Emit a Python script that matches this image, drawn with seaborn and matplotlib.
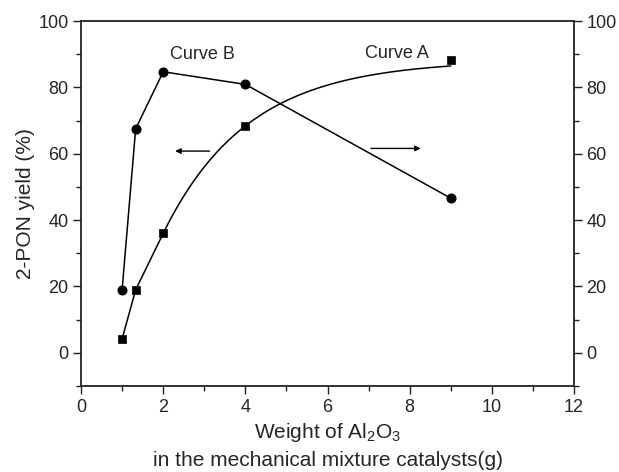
import numpy as np
import pandas as pd
import matplotlib
matplotlib.use("Agg")
import matplotlib.pyplot as plt
from matplotlib.ticker import MultipleLocator
import seaborn as sns

# Curve A: 2-PON yield (left axis), Curve B: right-axis quantity
weight_a = [1.0, 1.33, 2.0, 4.0, 9.0]
yield_a = [4.2, 19.0, 36.0, 68.4, 88.2]
weight_b = [1.0, 1.33, 2.0, 4.0, 9.0]
value_b = [19.0, 67.5, 84.7, 80.9, 46.6]

# saturating fit for curve A beyond 2 g: y = a - b*exp(-c*x)
fit_a, fit_b, fit_c = 88.2, 137.6, 0.4845
fit_start, fit_end = 2.0, 9.0

x_ticks = [0, 2, 4, 6, 8, 10, 12]
y_ticks = [0, 20, 40, 60, 80, 100]

sns.set_style("ticks")
plt.rcParams["font.family"] = ["Liberation Sans", "DejaVu Sans"]
plt.rcParams["mathtext.fontset"] = "custom"
plt.rcParams["mathtext.rm"] = "Liberation Sans"

fig = plt.figure(figsize=(6.19, 4.72), dpi=100)
ax = fig.add_axes([0.1309, 0.1822, 0.7964, 0.7733])

df_a = pd.DataFrame({"w": weight_a, "y": yield_a})
df_b = pd.DataFrame({"w": weight_b, "y": value_b})

# curve B: straight segments through the points
sns.lineplot(data=df_b, x="w", y="y", ax=ax, color="black", lw=1.1,
             marker="o", markersize=6.5, markeredgecolor="black", sort=False)

# curve A: straight segments up to 2 g, then the fitted curve
seg = df_a[df_a["w"] <= fit_start]
sns.lineplot(data=seg, x="w", y="y", ax=ax, color="black", lw=1.1, sort=False)
xf = np.linspace(fit_start, fit_end, 200)
fit_df = pd.DataFrame({"w": xf, "y": fit_a - fit_b * np.exp(-fit_c * xf)})
sns.lineplot(data=fit_df, x="w", y="y", ax=ax, color="black", lw=1.1, sort=False)
sns.scatterplot(data=df_a, x="w", y="y", ax=ax, color="black", marker="s",
                s=36, edgecolor="black", linewidth=0.5, zorder=5)

ax.text(2.95, 90, "Curve B", ha="center", va="center", fontsize=13)
ax.text(7.7, 90.3, "Curve A", ha="center", va="center", fontsize=13)

arrow = dict(arrowstyle="-|>", color="black", lw=1.0,
             mutation_scale=8, shrinkA=0, shrinkB=0)
ax.annotate("", xy=(2.29, 60.8), xytext=(3.13, 60.8), arrowprops=arrow)
ax.annotate("", xy=(8.27, 61.6), xytext=(7.06, 61.6), arrowprops=arrow)

ax.set_xlim(0, 12)
ax.set_ylim(-10, 100)
ax.set_xticks(x_ticks)
ax.set_yticks(y_ticks)
ax.xaxis.set_minor_locator(MultipleLocator(1))
ax.yaxis.set_minor_locator(MultipleLocator(10))
ax.tick_params(which="both", direction="out", top=False, right=True,
               labelright=True, width=1.0, color="#222222")
ax.tick_params(which="major", length=6, labelsize=13, pad=3)
ax.tick_params(which="minor", length=3.5)
for sp in ax.spines.values():
    sp.set_visible(True)
    sp.set_linewidth(1.3)
    sp.set_color("#222222")

ax.set_xlabel("Weight of Al$_2$O$_3$\nin the mechanical mixture catalysts(g)",
              fontsize=15, linespacing=1.45, labelpad=4)
ax.set_ylabel("2-PON yield (%)", fontsize=15, labelpad=2)

fig.savefig("out.png", dpi=100)
